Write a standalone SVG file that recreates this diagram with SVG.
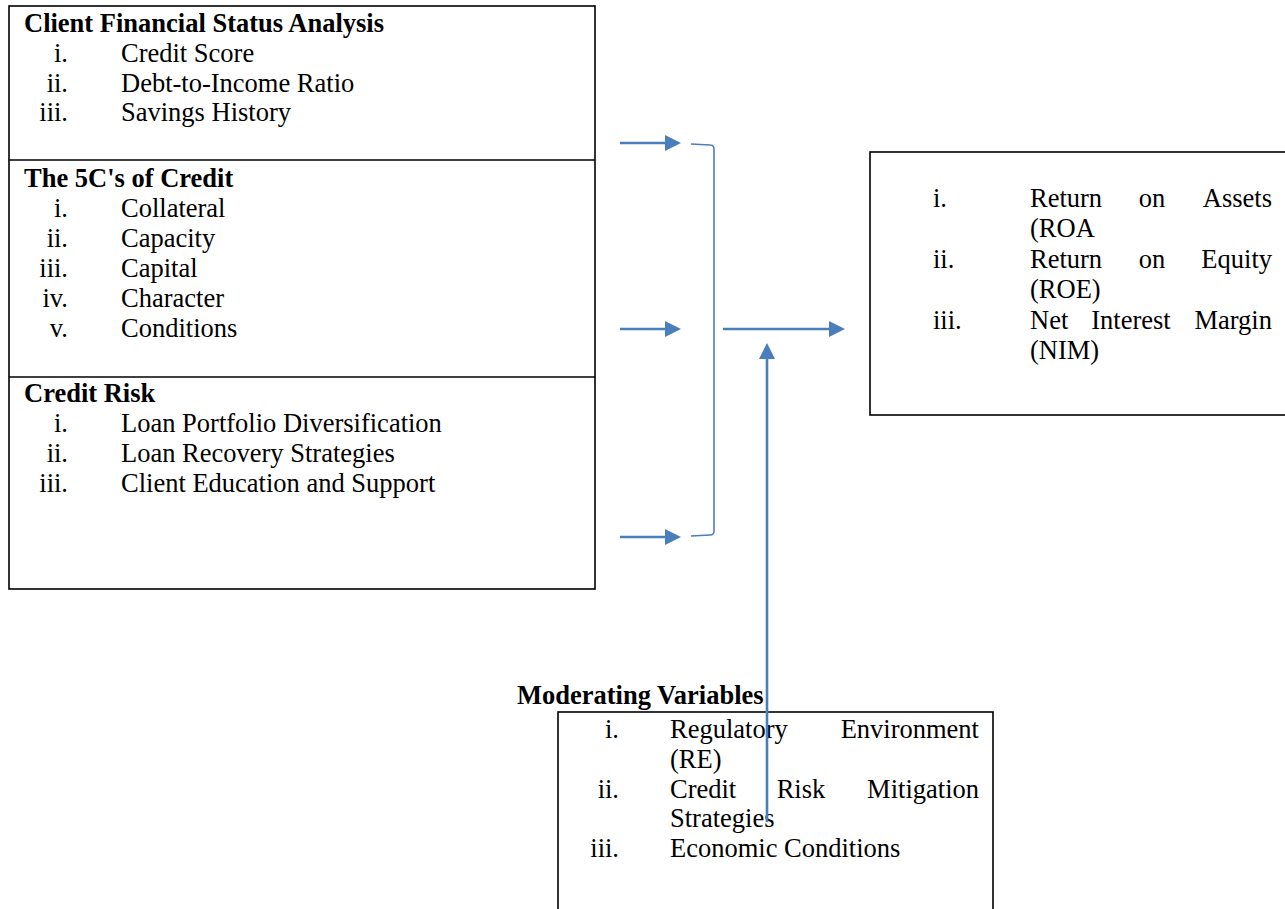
<svg xmlns="http://www.w3.org/2000/svg" width="1285" height="909" viewBox="0 0 1285 909">
<style>
.box{fill:none;stroke:#000;stroke-width:1.6}
.t{font-family:"Liberation Serif","Times New Roman",serif;font-size:26.5px;fill:#000}
.b{font-weight:bold}
.n{text-anchor:end}
.m{text-anchor:middle}
.con{fill:none;stroke:#4a7ebb;stroke-width:2.6}
.brk{fill:none;stroke:#4a7ebb;stroke-width:1.6}
</style>
<defs>
<marker id="ah" markerUnits="userSpaceOnUse" markerWidth="16" markerHeight="16" refX="11" refY="8" orient="auto">
<path d="M0,0 L16,8 L0,16 z" fill="#4a7ebb"/>
</marker>
</defs>
<rect width="1285" height="909" fill="#fff"/>

<g id="independent-variables">
<rect class="box" x="9" y="6" width="586" height="583"/>
<g id="client-financial-status">
<text class="t b" x="24" y="32">Client Financial Status Analysis</text>
<text class="t n" x="68" y="62">i.</text><text class="t" x="121" y="62">Credit Score</text>
<text class="t n" x="68" y="92">ii.</text><text class="t" x="121" y="92">Debt-to-Income Ratio</text>
<text class="t n" x="68" y="121">iii.</text><text class="t" x="121" y="121">Savings History</text>
</g>
<line class="box" x1="9" y1="160" x2="595" y2="160"/>
<g id="five-cs">
<text class="t b" x="24" y="187">The 5C's of Credit</text>
<text class="t n" x="68" y="217">i.</text><text class="t" x="121" y="217">Collateral</text>
<text class="t n" x="68" y="247">ii.</text><text class="t" x="121" y="247">Capacity</text>
<text class="t n" x="68" y="277">iii.</text><text class="t" x="121" y="277">Capital</text>
<text class="t n" x="68" y="307">iv.</text><text class="t" x="121" y="307">Character</text>
<text class="t n" x="68" y="337">v.</text><text class="t" x="121" y="337">Conditions</text>
</g>
<line class="box" x1="9" y1="377" x2="595" y2="377"/>
<g id="credit-risk">
<text class="t b" x="24" y="402">Credit Risk</text>
<text class="t n" x="68" y="432">i.</text><text class="t" x="121" y="432">Loan Portfolio Diversification</text>
<text class="t n" x="68" y="462">ii.</text><text class="t" x="121" y="462">Loan Recovery Strategies</text>
<text class="t n" x="68" y="492">iii.</text><text class="t" x="121" y="492">Client Education and Support</text>
</g>
</g>

<g id="dependent-variable">
<rect class="box" x="870" y="152" width="430" height="263"/>
<text class="t" x="933" y="207">i.</text>
<text class="t" x="1030" y="207">Return</text><text class="t m" x="1152" y="207">on</text><text class="t n" x="1272" y="207">Assets</text>
<text class="t" x="1030" y="237">(ROA</text>
<text class="t" x="933" y="268">ii.</text>
<text class="t" x="1030" y="268">Return</text><text class="t m" x="1152" y="268">on</text><text class="t n" x="1272" y="268">Equity</text>
<text class="t" x="1030" y="298">(ROE)</text>
<text class="t" x="933" y="329">iii.</text>
<text class="t" x="1030" y="329">Net</text><text class="t m" x="1131" y="329">Interest</text><text class="t n" x="1272" y="329">Margin</text>
<text class="t" x="1030" y="359">(NIM)</text>
</g>

<g id="moderating-variables">
<text class="t b" x="517" y="704">Moderating Variables</text>
<rect class="box" x="558" y="712" width="435" height="220"/>
<text class="t n" x="619" y="738">i.</text>
<text class="t" x="670" y="738">Regulatory</text><text class="t n" x="979" y="738">Environment</text>
<text class="t" x="670" y="768">(RE)</text>
<text class="t n" x="619" y="798">ii.</text>
<text class="t" x="670" y="798">Credit</text><text class="t m" x="801" y="798">Risk</text><text class="t n" x="979" y="798">Mitigation</text>
<text class="t" x="670" y="827">Strategies</text>
<text class="t n" x="619" y="857">iii.</text>
<text class="t" x="670" y="857">Economic Conditions</text>
</g>

<g id="connectors">
<path class="con" d="M620,143 H676" marker-end="url(#ah)"/>
<path class="con" d="M620,329 H676" marker-end="url(#ah)"/>
<path class="con" d="M620,537 H676" marker-end="url(#ah)"/>
<path class="brk" d="M691,144 L710,145 Q714,145 714,149 L714,531 Q714,535 710,535 L691,536"/>
<path class="con" d="M723,329 H840" marker-end="url(#ah)"/>
<path class="con" d="M767,822 V348" marker-end="url(#ah)"/>
</g>
</svg>
